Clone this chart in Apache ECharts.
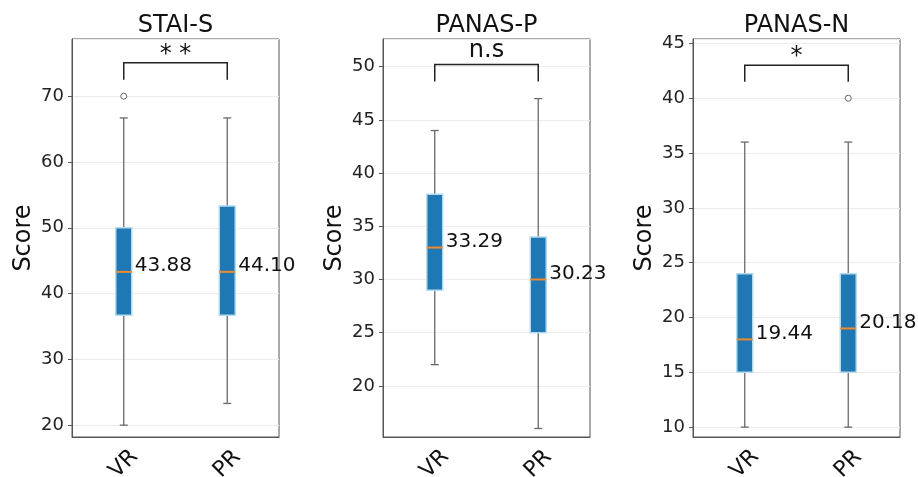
<!DOCTYPE html>
<html>
<head>
<meta charset="utf-8">
<script src="https://cdn.jsdelivr.net/npm/echarts@6/dist/echarts.min.js"></script>
<style>
  html, body { margin: 0; padding: 0; background: #fff; }
  #main { width: 918px; height: 477px; }
</style>
</head>
<body>
<div id="main"></div>
<script>
var groups = ['VR', 'PR'];
var panelTitles = ['STAI-S', 'PANAS-P', 'PANAS-N'];

// [lower whisker, Q1, median, Q3, upper whisker] for VR then PR
var staiBoxes = [[20, 36.7, 43.3, 50, 66.7], [23.3, 36.7, 43.3, 53.3, 66.7]];
var panasPBoxes = [[22, 29, 33, 38, 44], [16, 25, 30, 34, 47]];
var panasNBoxes = [[10, 15, 18, 24, 36], [10, 15, 19, 24, 36]];

// means printed beside each box
var staiMeans = [43.88, 44.10];
var panasPMeans = [33.29, 30.23];
var panasNMeans = [19.44, 20.18];

// outliers: [group index, value]
var staiOutliers = [[0, 70]];
var panasPOutliers = [];
var panasNOutliers = [[1, 40]];

// significance marks: [leg bottom, bracket top]
var sigLabels = ['* *', 'n.s', '*'];
var bracketLevels = [[72.5, 75.1], [48.6, 50.2], [41.5, 43.0]];

// y axis ranges
var yRanges = [[18.2, 78.7], [15.2, 52.6], [9.1, 45.4]];
var ySplits = [6, 7, 7];

var allBoxes = [staiBoxes, panasPBoxes, panasNBoxes];
var allMeans = [staiMeans, panasPMeans, panasNMeans];
var allOutliers = [staiOutliers, panasPOutliers, panasNOutliers];

var FONT = 'DejaVu Sans';
var gridLefts = [72, 383, 693];
var sigGaps = [7.5, 14, 9];

var myChart = echarts.init(document.getElementById('main'));

function renderBox(params, api) {
    var x = api.value(0);
    var lo = api.coord([x, api.value(1)]);
    var q1 = api.coord([x, api.value(2)]);
    var md = api.coord([x, api.value(3)]);
    var q3 = api.coord([x, api.value(4)]);
    var hi = api.coord([x, api.value(5)]);
    var cx = lo[0];
    var hw = 8, cw = 4;
    var wStyle = { stroke: '#6a6a6a', lineWidth: 1.3 };
    return {
        type: 'group',
        children: [
            { type: 'line', shape: { x1: cx, y1: lo[1], x2: cx, y2: q1[1] }, style: wStyle },
            { type: 'line', shape: { x1: cx, y1: q3[1], x2: cx, y2: hi[1] }, style: wStyle },
            { type: 'line', shape: { x1: cx - cw, y1: lo[1], x2: cx + cw, y2: lo[1] }, style: wStyle },
            { type: 'line', shape: { x1: cx - cw, y1: hi[1], x2: cx + cw, y2: hi[1] }, style: wStyle },
            { type: 'rect', shape: { x: cx - hw, y: q3[1], width: hw * 2, height: q1[1] - q3[1] },
              style: { fill: '#1f77b4', stroke: '#b3dcef', lineWidth: 1.5 } },
            { type: 'line', shape: { x1: cx - hw, y1: md[1], x2: cx + hw, y2: md[1] },
              style: { stroke: '#f08a2c', lineWidth: 2 } }
        ]
    };
}

function makeBracket(k) {
    return function (params, api) {
        var a = api.coord([api.value(0), api.value(3)]);
        var b = api.coord([api.value(1), api.value(3)]);
        var legA = api.coord([api.value(0), api.value(2)]);
        return {
            type: 'group',
            children: [
                { type: 'polyline',
                  shape: { points: [[a[0], legA[1]], [a[0], a[1]], [b[0], b[1]], [b[0], legA[1]]] },
                  style: { stroke: '#222', lineWidth: 1.5, fill: null } },
                { type: 'text',
                  style: { text: sigLabels[k], x: (a[0] + b[0]) / 2, y: a[1] - sigGaps[k],
                           align: 'center', verticalAlign: 'middle',
                           fontSize: 24, fontFamily: FONT, fill: '#111' } }
            ]
        };
    };
}

// small hollow circle for fliers
function renderFlier(params, api) {
    var p = api.coord([api.value(0), api.value(1)]);
    return {
        type: 'circle',
        shape: { cx: p[0], cy: p[1], r: 3 },
        style: { fill: '#fff', stroke: '#666', lineWidth: 1 }
    };
}

var titles = [], grids = [], xAxes = [], yAxes = [], series = [];

for (var i = 0; i < 3; i++) {
    grids.push({
        left: gridLefts[i], top: 39, width: 207, height: 398,
        outerBoundsMode: 'none', containLabel: false,
        show: true, borderColor: '#555', borderWidth: 1, backgroundColor: 'transparent'
    });
    titles.push({
        text: panelTitles[i],
        left: gridLefts[i] + 103.5, top: 14, textAlign: 'center', padding: 0,
        textStyle: { fontSize: 24, fontWeight: 'normal', color: '#111', fontFamily: FONT }
    });
    xAxes.push({
        type: 'category', gridIndex: i, data: groups,
        axisLine: { lineStyle: { color: '#555' } },
        axisTick: { alignWithLabel: true, length: 4, lineStyle: { color: '#555' } },
        axisLabel: { rotate: 45, align: 'center', verticalAlign: 'middle', margin: 27,
                     fontSize: 22, color: '#111', fontFamily: FONT },
        splitLine: { show: false }
    });
    yAxes.push({
        type: 'value', gridIndex: i,
        min: yRanges[i][0], max: yRanges[i][1], splitNumber: ySplits[i],
        name: 'Score', nameLocation: 'middle', nameGap: 36,
        nameTextStyle: { fontSize: 24, color: '#111', fontFamily: FONT },
        axisLine: { show: true, lineStyle: { color: '#555' } },
        axisTick: { show: true, length: 4, lineStyle: { color: '#555' } },
        axisLabel: { fontSize: 18, color: '#222', fontFamily: FONT, margin: 8,
                     showMinLabel: false, showMaxLabel: false },
        splitLine: { lineStyle: { color: '#ececec' } }
    });

    var boxData = [];
    var meanData = [];
    for (var j = 0; j < groups.length; j++) {
        var b = allBoxes[i][j];
        boxData.push([j, b[0], b[1], b[2], b[3], b[4]]);
        meanData.push({ value: [j, b[2]], mean: allMeans[i][j] });
    }

    series.push({
        type: 'custom', xAxisIndex: i, yAxisIndex: i,
        renderItem: renderBox, data: boxData, z: 3
    });
    series.push({
        type: 'custom', xAxisIndex: i, yAxisIndex: i,
        renderItem: renderFlier, data: allOutliers[i], z: 4
    });
    series.push({
        type: 'scatter', xAxisIndex: i, yAxisIndex: i,
        symbolSize: 0, data: meanData, z: 5, silent: true,
        itemStyle: { opacity: 1 },
        label: {
            show: true, position: 'right', distance: 11, offset: [0, -6],
            fontSize: 20, color: '#111', opacity: 1, fontFamily: FONT,
            formatter: function (p) { return p.data.mean.toFixed(2); }
        }
    });
    series.push({
        type: 'custom', xAxisIndex: i, yAxisIndex: i,
        renderItem: makeBracket(i),
        data: [[0, 1, bracketLevels[i][0], bracketLevels[i][1]]], z: 6
    });
}

myChart.setOption({
    animation: false,
    title: titles,
    grid: grids,
    xAxis: xAxes,
    yAxis: yAxes,
    series: series
});
</script>
</body>
</html>
